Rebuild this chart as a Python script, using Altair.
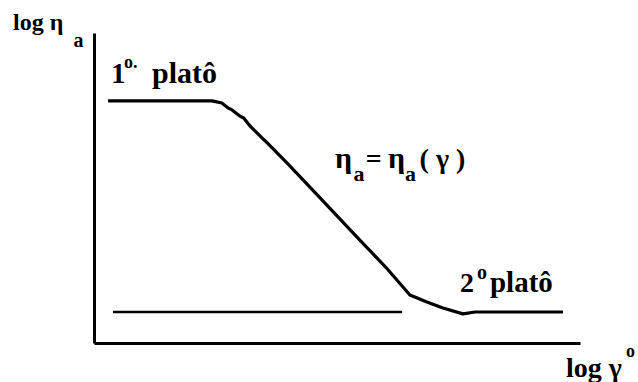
import altair as alt
import pandas as pd

# Flow curve: log of apparent viscosity against log of shear rate
log_rate = [0.29, 2.43, 2.63, 2.76, 2.84, 2.92, 3.00, 3.08, 3.21, 3.60, 3.97,
            4.70, 5.47, 6.00, 6.50, 6.85, 7.18, 7.59, 7.84, 9.65]
log_visc = [7.81, 7.81, 7.74, 7.58, 7.52, 7.42, 7.32, 7.26, 7.00, 6.40, 5.81,
            4.60, 3.32, 2.45, 1.55, 1.32, 1.13, 0.94, 1.00, 1.00]

# Horizontal reference level of the second plateau
ref_start = [0.39]
ref_end = [6.34]
ref_level = [1.00]

# Annotation pieces (text, position in data units, font size)
label_text = ["log η", "a", "1", "o.", "platô",
              "η", "a", "=", "η", "a", "( γ )",
              "2", "o", "platô", "log γ", "o"]
label_x = [-1.667, -0.42, 0.35, 0.617, 1.193,
           4.959, 5.34, 5.59, 6.049, 6.40, 6.70,
           7.531, 7.881, 8.148, 9.712, 10.947]
label_y = [10.097, 9.548, 8.387, 8.871, 8.387,
           5.645, 5.226, 5.645, 5.645, 5.226, 5.645,
           1.645, 2.065, 1.645, -1.097, -0.452]
label_size = [24, 20, 29, 18, 30,
              30, 22, 28, 30, 22, 28,
              28, 20, 29, 28, 18]

curve = pd.DataFrame({"x": log_rate, "y": log_visc, "i": range(len(log_rate))})
ref = pd.DataFrame({"x": ref_start, "x2": ref_end, "y": ref_level})
labels = pd.DataFrame({"t": label_text, "x": label_x, "y": label_y, "s": label_size})

xs = alt.Scale(domain=[0, 10], nice=False, zero=False)
ys = alt.Scale(domain=[0, 10], nice=False, zero=False)
x_axis = alt.Axis(domain=True, domainColor="black", domainWidth=3, ticks=False,
                  labels=False, grid=False, title=None)
y_axis = alt.Axis(domain=True, domainColor="black", domainWidth=3, ticks=False,
                  labels=False, grid=False, title=None)

line = alt.Chart(curve).mark_line(color="black", strokeWidth=3.2, strokeJoin="round").encode(
    x=alt.X("x:Q", scale=xs, axis=x_axis),
    y=alt.Y("y:Q", scale=ys, axis=y_axis),
    order="i:Q",
)

ref_rule = alt.Chart(ref).mark_rule(color="black", strokeWidth=2.6).encode(
    x=alt.X("x:Q", scale=xs),
    x2="x2:Q",
    y=alt.Y("y:Q", scale=ys),
)

text = alt.Chart(labels).mark_text(
    font="Liberation Serif", fontWeight="bold",
    align="left", baseline="alphabetic", color="black"
).encode(
    x=alt.X("x:Q", scale=xs),
    y=alt.Y("y:Q", scale=ys),
    text="t:N",
    size=alt.Size("s:Q", scale=None),
)

chart = alt.layer(line, ref_rule, text).properties(
    width=486,
    height=310,
    autosize="none",
    padding={"left": 94, "top": 33, "right": 58, "bottom": 39},
    background="white",
).configure_view(stroke=None)

chart.save("out.html", embed_options={"renderer": "svg", "actions": False})
